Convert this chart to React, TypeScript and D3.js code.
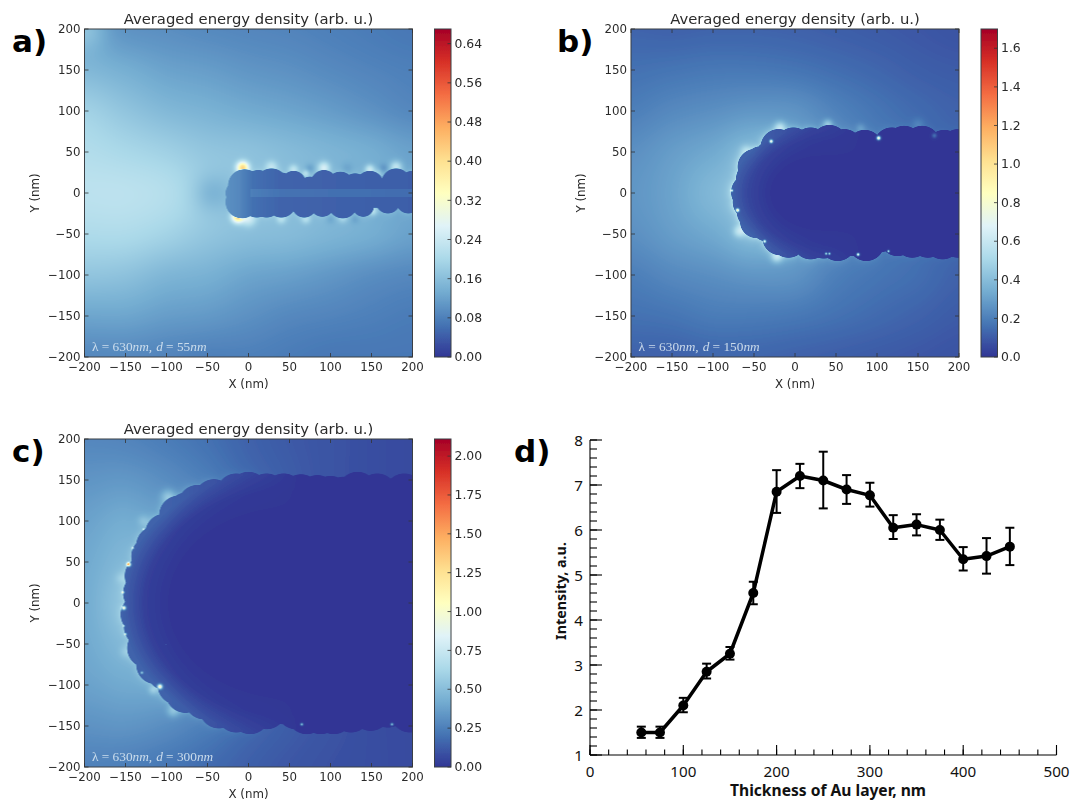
import React, { useMemo } from "react";
import * as d3 from "d3";

// ---------- shared colour map (RdYlBu_r) ----------
const cmapStops = ["#313695","#4575b4","#74add1","#abd9e9","#e0f3f8","#ffffbf","#fee090","#fdae61","#f46d43","#d73027","#a50026"];
const axisTicks = [-200,-150,-100,-50,0,50,100,150,200];

// ---------- panel a ----------
const gridA = [
 [.115,.103,.098,.092,.088,.085,.080,.075,.070],
 [.150,.137,.122,.115,.106,.100,.092,.085,.080],
 [.190,.170,.152,.142,.132,.124,.114,.102,.090],
 [.210,.200,.188,.172,.165,.155,.145,.135,.120],
 [.222,.222,.212,.185,.160,.150,.140,.130,.120],
 [.205,.205,.192,.172,.160,.155,.145,.135,.120],
 [.170,.165,.148,.140,.125,.118,.108,.097,.090],
 [.125,.125,.115,.110,.100,.090,.085,.080,.075],
 [.090,.090,.085,.080,.080,.075,.070,.070,.070],
];
const grainsA = [[-14,0,14],[-5,9,20],[12,9,19],[28,10,20],[55,12,15],[40,8,17],[75,6,14],[92,12,16],[112,9,17],[130,8,16],[148,10,17],[180,12,18],[200,10,17],
 [-8,-11,20],[10,-12,18],[22,-12,18],[40,-12,18],[68,-15,15],[90,-14,15],[115,-13,18],[140,-16,13],[170,-10,15],[195,-10,15]];
const coreA = [[0,200,-18,18]];
const coreXA = [-28,-12,5,40,200];
const coreVA = [.10,.09,.062,.048,.042];
const fadeXA = [-200,200];
const fadeVA = [1,1];
const stripsA = [[2,200,-5,5,.016]];
const spotsA: number[][] = [];
const glowsA = [[-200,200,.05,18],[-7,31,.24,5],[-13,-29,.24,5],[0,-32,.08,6],[28,32,.06,5],[55,29,.06,4],[92,31,.1,5],[148,29,.09,4],[180,32,.09,5],[70,-32,.05,4],[40,-32,.05,4],[115,-31,.04,4],[152,-22,.07,4],[158,24,.04,4],[70,24,.06,3],[-45,0,-.035,16],[75,30,-.03,4],[120,30,-.02,5],[165,30,-.03,4],[130,-32,-.02,4],[100,-32,-.02,4]];
const rimXA = [-30,0,200];
const rimVA = [.0,.02,.02];

// ---------- panel b ----------
const gridB = [
 [.125,.120,.125,.125,.120,.110,.100,.090,.080],
 [.160,.170,.180,.180,.170,.150,.130,.110,.100],
 [.200,.230,.250,.270,.260,.210,.170,.140,.120],
 [.250,.290,.330,.380,.300,.240,.190,.150,.130],
 [.270,.310,.380,.400,.300,.240,.190,.150,.130],
 [.250,.290,.330,.380,.300,.240,.190,.150,.130],
 [.200,.230,.250,.270,.260,.200,.170,.150,.120],
 [.160,.170,.190,.190,.180,.160,.140,.120,.100],
 [.120,.120,.130,.130,.120,.110,.100,.090,.080],
];
const grainsB = [[-20,56,22],[-2,58,22],[19,58,22],[42,61,22],[60,56,22],[85,55,22],[118,58,22],[133,60,22],[155,60,22],[182,55,22],[199,56,22],
 [-31,45,18],[-42,39,18],[-48,32,22],[-50,17,22],[-56,1,22],[-54,-11,22],[-49,-23,22],[-47,-35,20],[-35,-41,18],[-18,-54,22],[-8,-57,22],
 [19,-59,22],[35,-58,22],[52,-61,22],[70,-55,22],[87,-61,22],[105,-52,20],[125,-55,22],[143,-57,22],[162,-57,22],[180,-59,22],[199,-57,22],[-20,0,50]];
const coreB = [[-30,200,-55,55]];
const ellipseB = [30,108,80];
const coreXB = [.55,.8,1];
const coreVB = [.0,.04,.12];
const fadeXB = [-50,20,80];
const fadeVB = [1,.3,0];
const stripsB: number[][] = [];
const spotsB = [[-29,63,.7,1.4],[102,67,.8,1.6],[-77,3,.6,1],[-70,-21,.8,1.4],[-37,-59,.6,1.2],[38,-74,.45,1],[42,-74,.45,1],[77,-75,.7,1.2],[114,-71,.5,1],[170,70,.15,2]];
const glowsB = [[-18,80,.22,5],[40,84,.18,4],[-22,-78,.22,5],[-68,-47,.18,5],[-60,52,.1,5],[80,79,.08,4],[150,84,.06,5]];
const rimXB = [-80,-20,60,200];
const rimVB = [.14,.11,.04,.01];

// ---------- panel c ----------
const gridC = [
 [.280,.270,.240,.200,.150,.120,.100,.080,.070],
 [.330,.340,.300,.240,.170,.130,.100,.080,.070],
 [.380,.420,.360,.260,.180,.130,.100,.080,.070],
 [.410,.470,.380,.260,.180,.130,.100,.080,.070],
 [.420,.520,.400,.260,.180,.130,.100,.080,.070],
 [.410,.470,.380,.260,.180,.130,.100,.080,.070],
 [.380,.410,.390,.280,.180,.130,.100,.080,.070],
 [.320,.330,.300,.240,.170,.130,.100,.080,.070],
 [.260,.250,.220,.180,.140,.110,.090,.080,.070],
];
const grainsC = [[-75,111,24],[-62,120,24],[-42,127,24],[-15,134,24],[0,136,24],[22,134,24],[43,134,24],[64,133,24],[84,132,24],[100,131,24],[116,130,24],[133,136,24],[157,134,24],[175,128,24],[190,134,24],
 [-85,107,24],[-102,85,24],[-113,70,24],[-119,57,24],[-127,33,24],[-129,12,24],[-132,-14,24],[-128,-29,24],[-124,-55,24],[-113,-75,24],[-100,-83,24],[-87,-100,24],[-77,-110,24],[-54,-118,24],[-36,-129,24],[-15,-134,24],[2,-136,24],
 [22,-130,24],[43,-124,24],[58,-130,24],[71,-136,24],[88,-136,24],[104,-136,24],[125,-134,24],[149,-132,24],[170,-128,24],[197,-134,24]];
const coreC = [[-60,200,-125,125],[-80,200,-105,105],[-100,200,-90,90],[-125,200,-50,50]];
const ellipseC = [40,195,160];
const coreXC = [.7,.85,1];
const coreVC = [.0,.03,.15];
const fadeXC = [-100,0,60];
const fadeVC = [1,.35,0];
const stripsC: number[][] = [];
const spotsC = [[-146,47,1.2,1.6],[-152,-6,.9,1.6],[-153,13,.6,1.1],[-108,-102,.95,2],[-150,-38,.5,1],[-152,-28,.4,.8],[65,-148,.5,1.1],[175,-148,.5,1.1],[-130,-85,.4,1.1],[-141,67,.4,1],[-128,90,.35,.8]];
const glowsC = [[-92,-132,.16,5],[-116,-106,.16,4],[-98,130,.18,6],[-128,100,.1,5],[-155,30,.08,5],[-150,-60,.07,5]];
const rimXC = [-155,-100,-40,40];
const rimVC = [.09,.09,.04,.0];

// ---------- panel d ----------
const thickness = [55,75,100,125,150,175,200,225,250,275,300,325,350,375,400,425,450];
const intensity = [1.5,1.5,2.1,2.85,3.25,4.6,6.85,7.2,7.1,6.9,6.77,6.05,6.12,6.0,5.35,5.42,5.63];
const errHigh = [1.63,1.63,2.27,3.03,3.4,4.85,7.33,7.47,7.74,7.22,7.05,6.33,6.35,6.23,5.62,5.82,6.05];
const errLow = [1.38,1.38,1.95,2.7,3.12,4.35,6.38,6.93,6.48,6.58,6.52,5.8,5.88,5.78,5.1,5.03,5.22];
const dXMajor = [0,100,200,300,400,500];
const dXMinor = d3.range(0,501,20);
const dYMajor = [1,2,3,4,5,6,7,8];
const dYMinor = d3.range(1,8.01,0.2);

const title = "Averaged energy density (arb. u.)";
const SIZE = 328;
const FONT = "'DejaVu Sans', sans-serif";
const TXT = "#2a2a2a";

function crom(p0:number,p1:number,p2:number,p3:number,t:number){
  return .5*((2*p1)+(-p0+p2)*t+(2*p0-5*p1+4*p2-p3)*t*t+(-p0+3*p1-3*p2+p3)*t*t*t);
}
function sample(g:number[][],x:number,y:number){
  const u = Math.max(0,Math.min(7.9999,(x+200)/50));
  const v = Math.max(0,Math.min(7.9999,(200-y)/50));
  const i=Math.floor(u), j=Math.floor(v), tu=u-i, tv=v-j;
  const row=(r:number)=>{const R=g[Math.max(0,Math.min(8,r))];
    return crom(R[Math.max(0,i-1)],R[i],R[i+1],R[Math.min(8,i+2)],tu);};
  return crom(row(j-1),row(j),row(j+1),row(j+2),tv);
}

type P = {grid:number[][],grains:number[][],core:number[][],ellipse:number[]|null,coreX:number[],coreV:number[],fadeX:number[],fadeV:number[],strips:number[][],spots:number[][],glows:number[][],rimX:number[],rimV:number[],rimL:number,max:number};

function fieldImage(p:P){
  const pad=4, n=SIZE+pad*2;
  const src=document.createElement("canvas"); src.width=src.height=n;
  const ctx=src.getContext("2d")!;
  const img=ctx.createImageData(n,n);
  const color=d3.scaleLinear<string>().domain(cmapStops.map((_,i)=>i/10)).range(cmapStops).clamp(true);
  const lut=d3.range(1025).map(i=>d3.rgb(color(i/1024)));
  const sx=d3.scaleLinear().domain([-pad,SIZE+pad]).range([-200-pad*400/SIZE,200+pad*400/SIZE]);
  const sy=d3.scaleLinear().domain([-pad,SIZE+pad]).range([200+pad*400/SIZE,-200-pad*400/SIZE]);
  const coreS=d3.scaleLinear().domain(p.coreX).range(p.coreV).clamp(true);
  const fadeS=d3.scaleLinear().domain(p.fadeX).range(p.fadeV).clamp(true);
  const rimS=d3.scaleLinear().domain(p.rimX).range(p.rimV).clamp(true);
  for(let py=0;py<n;py++)for(let px=0;px<n;px++){
    const x=sx(px-pad+.5), y=sy(py-pad+.5);
    let d=1e9;
    for(const g of p.grains){const s=Math.hypot(x-g[0],y-g[1])-g[2]; if(s<d)d=s;}
    for(const c of p.core){
      const dx=Math.max(c[0]-x,x-c[1]), dy=Math.max(c[2]-y,y-c[3]);
      const s=dx>0||dy>0?Math.hypot(Math.max(dx,0),Math.max(dy,0)):Math.max(dx,dy);
      if(s<d)d=s;
    }
    let out=sample(p.grid,x,y)+rimS(x)*Math.exp(-Math.max(d,0)/p.rimL);
    for(const s of p.glows){const r=Math.hypot(x-s[0],y-s[1]); out+=s[2]*Math.exp(-r*r/(2*s[3]*s[3]));}
    let inn:number;
    if(p.ellipse){
      const e=p.ellipse;
      const rho=Math.hypot(Math.min(x-e[0],0)/e[1],y/e[2]);
      inn=coreS(rho)*fadeS(x);
    } else inn=coreS(x);
    for(const st of p.strips) if(x>st[0]&&x<st[1]&&y>st[2]&&y<st[3]) inn+=st[4];
    const t=Math.max(0,Math.min(1,(d+.4)/.8));
    let v=inn*(1-t)+out*t;
    for(const s of p.spots){const r=Math.hypot(x-s[0],y-s[1]); v+=s[2]*Math.exp(-r*r/(2*s[3]*s[3]));}
    const c=lut[Math.max(0,Math.min(1024,Math.round(v/p.max*1024)))];
    const o=(py*n+px)*4;
    img.data[o]=c.r;img.data[o+1]=c.g;img.data[o+2]=c.b;img.data[o+3]=255;
  }
  ctx.putImageData(img,0,0);
  const dst=document.createElement("canvas"); dst.width=dst.height=SIZE;
  const c2=dst.getContext("2d")!;
  c2.filter="blur(0.5px)";
  c2.drawImage(src,-pad,-pad);
  return dst.toDataURL("image/png");
}

function Heat({x0,y0,cbX,p,cbTicks,fmt,letter,letterX,letterY,dTxt,id}:{x0:number,y0:number,cbX:number,p:P,cbTicks:number[],fmt:(n:number)=>string,letter:string,letterX:number,letterY:number,dTxt:string,id:string}){
  const href=useMemo(()=>fieldImage(p),[p]);
  const xS=d3.scaleLinear().domain([-200,200]).range([0,SIZE]);
  const yS=d3.scaleLinear().domain([-200,200]).range([SIZE,0]);
  const cS=d3.scaleLinear().domain([0,p.max]).range([SIZE,0]);
  const fmtNum=(n:number)=>n<0?"\u2212"+Math.abs(n):String(n);
  return <g>
    <text x={letterX} y={letterY} fontFamily={FONT} fontWeight="bold" fontSize={31} fill="#000">{letter}</text>
    <g filter="url(#soft)">
    <g transform={`translate(${x0},${y0})`} fontFamily={FONT} fill={TXT}>
      <text x={SIZE/2} y={-5} textAnchor="middle" fontSize={14.8}>{title}</text>
      <image href={href} x={0} y={0} width={SIZE} height={SIZE}/>
      <rect width={SIZE} height={SIZE} fill="none" stroke="#3a3f44" strokeWidth={1}/>
      {axisTicks.map(t=><g key={t} stroke="#333" strokeWidth={.8}>
        <line x1={xS(t)} x2={xS(t)} y1={0} y2={4}/><line x1={xS(t)} x2={xS(t)} y1={SIZE} y2={SIZE-4}/>
        <line y1={yS(t)} y2={yS(t)} x1={0} x2={4}/><line y1={yS(t)} y2={yS(t)} x1={SIZE} x2={SIZE-4}/>
      </g>)}
      {axisTicks.map(t=><text key={t} x={xS(t)} y={SIZE+14} textAnchor="middle" fontSize={11.8}>{fmtNum(t)}</text>)}
      {axisTicks.map(t=><text key={t} x={-4} y={yS(t)+3.5} textAnchor="end" fontSize={11.8}>{fmtNum(t)}</text>)}
      <text x={SIZE/2} y={SIZE+31} textAnchor="middle" fontSize={11.8}>X (nm)</text>
      <text transform={`translate(${-46},${SIZE/2}) rotate(-90)`} textAnchor="middle" fontSize={11.8}>Y (nm)</text>
      <text x={7.5} y={SIZE-6.5} fontFamily="'Liberation Serif', serif" fontSize={13.3} fill="#d7e6f1" fillOpacity={.9} fontStyle="italic">
        <tspan fontStyle="normal">{"\u03bb = 630"}</tspan>nm,<tspan dx={4}>d</tspan><tspan fontStyle="normal">{" = "+dTxt}</tspan>nm
      </text>
    </g>
    <defs><linearGradient id={id} x1="0" x2="0" y1="1" y2="0">
      {cmapStops.map((c,i)=><stop key={c} offset={i/10} stopColor={c}/>)}
    </linearGradient></defs>
    <g transform={`translate(${cbX},${y0})`} fontFamily={FONT} fill={TXT}>
      <rect width={16.5} height={SIZE} fill={`url(#${id})`} stroke="#3a3f44" strokeWidth={1}/>
      {cbTicks.map(t=><g key={t}>
        <line x1={16.5} x2={13} y1={cS(t)} y2={cS(t)} stroke="#333" strokeWidth={.8}/>
        <text x={20} y={cS(t)+4.2} fontSize={12.4}>{fmt(t)}</text>
      </g>)}
    </g>
    </g>
  </g>;
}

const panelA:P={grid:gridA,grains:grainsA,core:coreA,ellipse:null,coreX:coreXA,coreV:coreVA,fadeX:fadeXA,fadeV:fadeVA,strips:stripsA,spots:spotsA,glows:glowsA,rimX:rimXA,rimV:rimVA,rimL:4,max:.67};
const panelB:P={grid:gridB,grains:grainsB,core:coreB,ellipse:ellipseB,coreX:coreXB,coreV:coreVB,fadeX:fadeXB,fadeV:fadeVB,strips:stripsB,spots:spotsB,glows:glowsB,rimX:rimXB,rimV:rimVB,rimL:4,max:1.7};
const panelC:P={grid:gridC,grains:grainsC,core:coreC,ellipse:ellipseC,coreX:coreXC,coreV:coreVC,fadeX:fadeXC,fadeV:fadeVC,strips:stripsC,spots:spotsC,glows:glowsC,rimX:rimXC,rimV:rimVC,rimL:4,max:2.11};

const cbTicksA=[0,.08,.16,.24,.32,.40,.48,.56,.64];
const cbTicksB=[0,.2,.4,.6,.8,1,1.2,1.4,1.6];
const cbTicksC=[0,.25,.5,.75,1,1.25,1.5,1.75,2];

function PanelD(){
  const x=d3.scaleLinear().domain([0,500]).range([590,1056.5]);
  const y=d3.scaleLinear().domain([1,8]).range([755,440]);
  const pts=thickness.map((t,i)=>[t,intensity[i]] as [number,number]);
  const line=d3.line<[number,number]>().x(d=>x(d[0])).y(d=>y(d[1]));
  const F="'Noto Sans', sans-serif";
  return <g fontFamily={F} fill="#111">
    <text x={514} y={462} fontFamily={FONT} fontWeight="bold" fontSize={31} fill="#000">d)</text>
    <line x1={590} x2={590} y1={440} y2={755} stroke="#000" strokeWidth={1.1}/>
    <line x1={590} x2={1056.5} y1={755} y2={755} stroke="#000" strokeWidth={1.1}/>
    {dXMinor.map(t=><line key={t} x1={x(t)} x2={x(t)} y1={755} y2={749.5} stroke="#000" strokeWidth={1.1}/>)}
    {dXMajor.map(t=><line key={t} x1={x(t)} x2={x(t)} y1={755} y2={745} stroke="#000" strokeWidth={1.1}/>)}
    {dYMinor.map(t=><line key={t} y1={y(t)} y2={y(t)} x1={590} x2={597} stroke="#000" strokeWidth={1.1}/>)}
    {dYMajor.map(t=><line key={t} y1={y(t)} y2={y(t)} x1={590} x2={602} stroke="#000" strokeWidth={1.1}/>)}
    {dXMajor.map(t=><text key={t} x={x(t)} y={776.5} textAnchor="middle" fontSize={15.2}>{t}</text>)}
    {dYMajor.map(t=><text key={t} x={583} y={y(t)+5.5} textAnchor="end" fontSize={15.2}>{t}</text>)}
    <text x={828} y={795.5} textAnchor="middle" fontSize={15.6} fontWeight="bold">Thickness of Au layer, nm</text>
    <text transform="translate(566,591) rotate(-90)" textAnchor="middle" fontSize={14.3} fontWeight="bold">Intensity, a.u.</text>
    {thickness.map((t,i)=><g key={t} stroke="#000" strokeWidth={2}>
      <line x1={x(t)} x2={x(t)} y1={y(errLow[i])} y2={y(errHigh[i])}/>
      <line x1={x(t)-4.5} x2={x(t)+4.5} y1={y(errLow[i])} y2={y(errLow[i])}/>
      <line x1={x(t)-4.5} x2={x(t)+4.5} y1={y(errHigh[i])} y2={y(errHigh[i])}/>
    </g>)}
    <path d={line(pts)!} fill="none" stroke="#000" strokeWidth={3.5} strokeLinejoin="round"/>
    {pts.map(d=><circle key={d[0]} cx={x(d[0])} cy={y(d[1])} r={5} fill="#000"/>)}
  </g>;
}

export default function App(){
  return <svg width={1072} height={800} style={{position:"absolute",left:0,top:0,background:"#fff"}}>
    <defs><filter id="soft" x="-5%" y="-5%" width="110%" height="110%"><feGaussianBlur stdDeviation="0.35"/></filter></defs>
    <Heat id="cbA" x0={84.5} y0={29} cbX={434.5} p={panelA} cbTicks={cbTicksA} fmt={n=>n.toFixed(2)} letter="a)" letterX={12} letterY={52} dTxt="55"/>
    <Heat id="cbB" x0={631} y0={29} cbX={981} p={panelB} cbTicks={cbTicksB} fmt={n=>n.toFixed(1)} letter="b)" letterX={557} letterY={52} dTxt="150"/>
    <Heat id="cbC" x0={84.5} y0={439} cbX={434.5} p={panelC} cbTicks={cbTicksC} fmt={n=>n.toFixed(2)} letter="c)" letterX={12} letterY={462} dTxt="300"/>
    <PanelD/>
  </svg>;
}
